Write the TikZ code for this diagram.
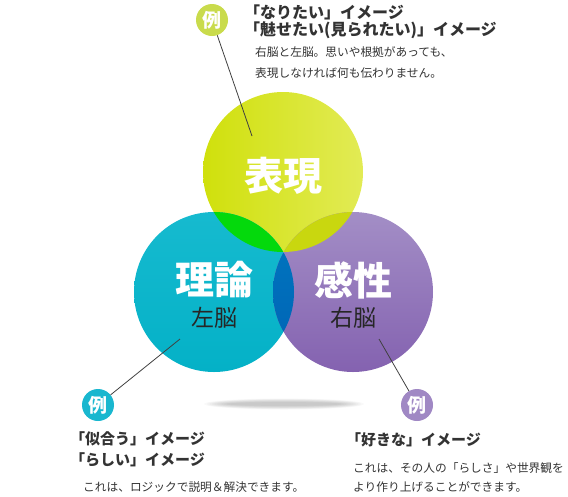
\documentclass[tikz,border=0pt]{standalone}
\usepackage{fontspec}
\setmainfont{Noto Sans CJK JP}
\usetikzlibrary{positioning}
\definecolor{txtgray}{HTML}{333333}
\definecolor{limeL}{HTML}{D0E00C}
\definecolor{limeR}{HTML}{E2EB55}
\definecolor{cyanT}{HTML}{16BACF}
\definecolor{cyanB}{HTML}{04B1C7}
\definecolor{purpT}{HTML}{A38EC6}
\definecolor{purpB}{HTML}{8462B0}
\definecolor{greenO}{HTML}{04D90C}
\definecolor{oliveO}{HTML}{C9D70F}
\definecolor{blueT}{HTML}{0078C0}
\definecolor{blueB}{HTML}{0062B5}
\definecolor{limeBadge}{HTML}{C9DB4C}
\definecolor{cyanBadge}{HTML}{19B7CF}
\definecolor{purpBadge}{HTML}{A088C4}
\tikzset{
  bigword/.style={inner sep=0pt,text=white,font=\fontsize{39}{42}\selectfont\bfseries},
  brainword/.style={inner sep=0pt,text=black!85,font=\fontsize{23}{26}\selectfont},
  reibadge/.style={circle,minimum size=32pt,inner sep=0pt,text=white,font=\fontsize{19}{19}\selectfont\bfseries},
  headline/.style={anchor=west,inner sep=0pt,text=txtgray,font=\fontsize{15}{18}\selectfont\bfseries},
  bodyline/.style={anchor=west,inner sep=0pt,text=txtgray,font=\fontsize{11.7}{14}\selectfont},
  leader/.style={draw=black!75,line width=0.8pt}
}
\begin{document}
\begin{tikzpicture}[x=1pt,y=-1pt]
       \useasboundingbox (0,0) rectangle (568,496);
       \coordinate (hyogen) at (283,172);
       \coordinate (riron) at (214,292);
       \coordinate (kansei) at (353,292);
       \foreach \i in {0,...,9}
         \fill[black,opacity=0.022] (284,404) ellipse ({80-\i*2.5} and {5.5-\i*0.4});
       \shade[left color=limeL,right color=limeR] (hyogen) circle (80);
       \shade[top color=cyanT,bottom color=cyanB] (riron) circle (80);
       \shade[top color=purpT,bottom color=purpB] (kansei) circle (80);
       \begin{scope}
         \clip (hyogen) circle (80);
         \fill[greenO] (riron) circle (80);
         \fill[oliveO] (kansei) circle (80);
       \end{scope}
       \begin{scope}
         \clip (riron) circle (80);
         \shade[top color=blueT,bottom color=blueB] (kansei) circle (80);
       \end{scope}
       \node[bigword] (hyogenword) at (283,176) {表現};
       \node[bigword] (rironword) at (214,280) {理論};
       \node[brainword] (sano) at (214,318) {左脳};
       \node[bigword] (kanseiword) at (353,280) {感性};
       \node[brainword] (uno) at (353,318) {右脳};
       \coordinate (hyogenpt) at (252,136);
       \coordinate (rironpt) at (180,339);
       \coordinate (kanseipt) at (379,339);
       \node[reibadge,fill=limeBadge] (reiA) at (212,20) {例};
       \node[reibadge,fill=cyanBadge] (reiB) at (98,405) {例};
       \node[reibadge,fill=purpBadge] (reiC) at (417,405) {例};
       \draw[leader] (reiA) -- (hyogenpt);
       \draw[leader] (reiB) -- (rironpt);
       \draw[leader] (reiC) -- (kanseipt);
       \node[headline,font=\fontsize{16}{18}\selectfont\bfseries] (naritai) at (244,12) {「なりたい」イメージ};
       \node[headline,font=\fontsize{16}{18}\selectfont\bfseries] (misetai) at (244,30) {「魅せたい(見られたい)」イメージ};
       \node[bodyline] (hyogenA) at (255,52) {右脳と左脳。思いや根拠があっても、};
       \node[bodyline] (hyogenB) at (255,73) {表現しなければ何も伝わりません。};
       \node[headline] (niau) at (70,439) {「似合う」イメージ};
       \node[headline] (rashii) at (70,460) {「らしい」イメージ};
       \node[bodyline] (rironA) at (83,487) {これは、ロジックで説明＆解決できます。};
       \node[headline] (sukina) at (346,440) {「好きな」イメージ};
       \node[bodyline] (kanseiA) at (353,468) {これは、その人の「らしさ」や世界観を};
       \node[bodyline] (kanseiB) at (353,487) {より作り上げることができます。};
\end{tikzpicture}
\end{document}
